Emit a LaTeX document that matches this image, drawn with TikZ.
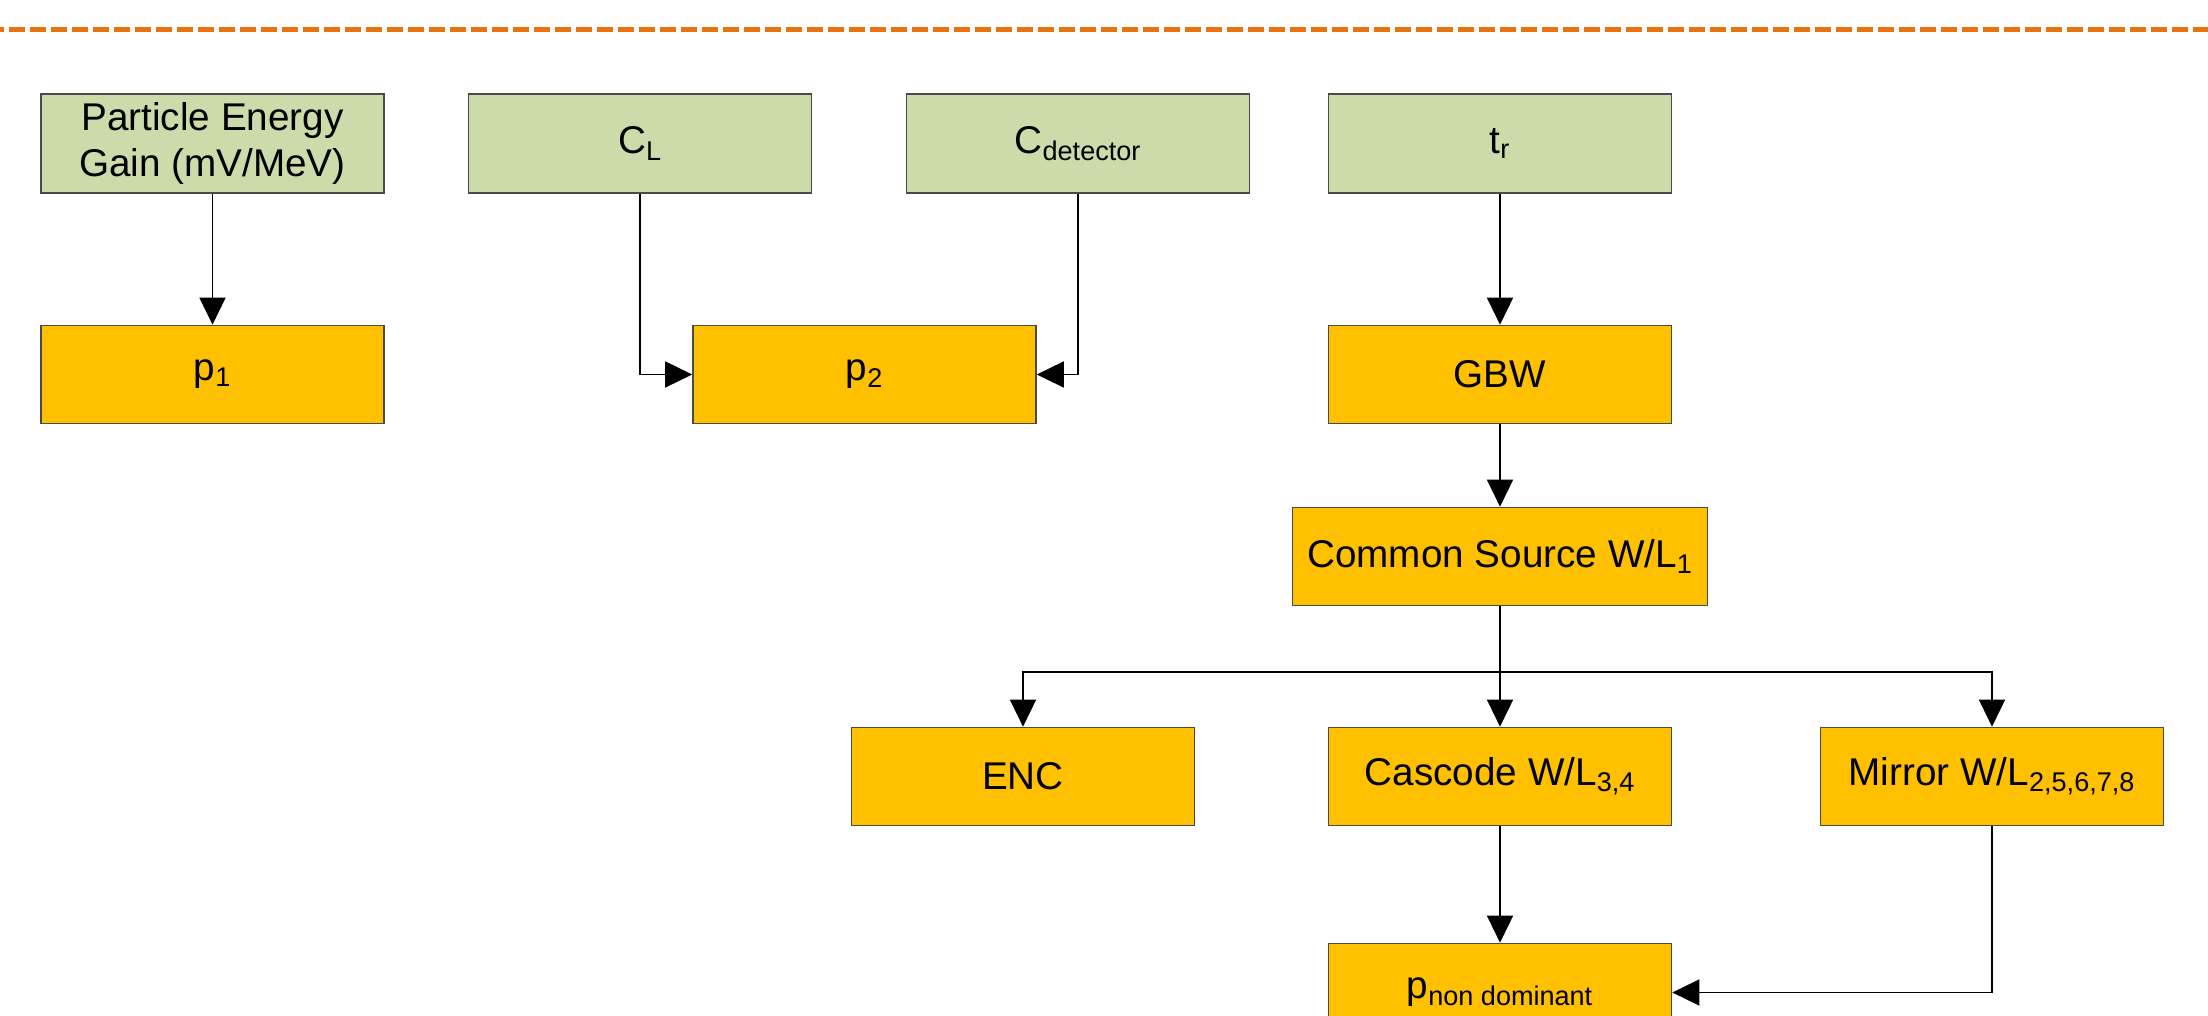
\documentclass[tikz,border=0pt]{standalone}
\usepackage{fontspec}
\setmainfont{Liberation Sans}
\usepackage{tikz}
\usetikzlibrary{arrows.meta}
\definecolor{ourpalegreen}{HTML}{CBDBAA}
\definecolor{ourgold}{HTML}{FFC000}
\definecolor{ourdashorange}{HTML}{E8740F}
\definecolor{ourgrey}{HTML}{4A4A4A}

\begin{document}
\begin{tikzpicture}[font=\fontsize{22}{26.7}\selectfont]

  \tikzstyle{param}=[draw=ourgrey, line width=0.9pt, fill=ourpalegreen, minimum width=6.86cm, minimum height=1.98cm, align=center, inner sep=0]
  \tikzstyle{result}=[draw=ourgrey, line width=0.9pt, fill=ourgold, minimum width=6.86cm, minimum height=1.96cm, align=center, inner sep=0]
  \tikzstyle{flow}=[-{Triangle[length=0.54cm,width=0.52cm]}, line width=0.8pt, draw=black]

  \useasboundingbox (0,0) rectangle (44.16,20.32);

  \draw[ourdashorange, line width=3pt, dash pattern=on 0.32cm off 0.1cm, dash phase=0.25cm] (0,19.73) -- (44.16,19.73);

  \path
  (4.25,17.45) node[param](gain){Particle Energy\\Gain (mV/MeV)}
  (12.8,17.45) node[param](cl){C\textsubscript{L}}
  (21.56,17.45) node[param](cdet){C\textsubscript{detector}}
  (30,17.45) node[param](tr){t\textsubscript{r}};

  \path
  (4.25,12.83) node[result](p1){p\textsubscript{1}}
  (17.29,12.83) node[result](p2){p\textsubscript{2}}
  (30,12.83) node[result](gbw){GBW};

  \path
  (30,9.19) node[result,minimum width=8.3cm](cs){Common Source W/L\textsubscript{1}};

  \path
  (20.46,4.79) node[result](enc){ENC}
  (30,4.79) node[result](casc){Cascode W/L\textsubscript{3,4}}
  (39.84,4.79) node[result](mirror){Mirror W/L\textsubscript{2,5,6,7,8}};

  \path
  (30,0.47) node[result](pnd){p\textsubscript{non dominant}};

  \coordinate (split) at (30,6.88);

  \draw[flow] (gain)--(p1);
  \draw[flow] (cl) |- (p2);
  \draw[flow] (cdet) |- (p2);

  \draw[flow] (tr)--(gbw);
  \draw[flow] (gbw)--(cs);
  \draw[flow] (cs)--(casc);
  \draw[flow] (split) -| (enc);
  \draw[flow] (split) -| (mirror);

  \draw[flow] (casc)--(pnd);
  \draw[flow] (mirror) |- (pnd);
\end{tikzpicture}
\end{document}
